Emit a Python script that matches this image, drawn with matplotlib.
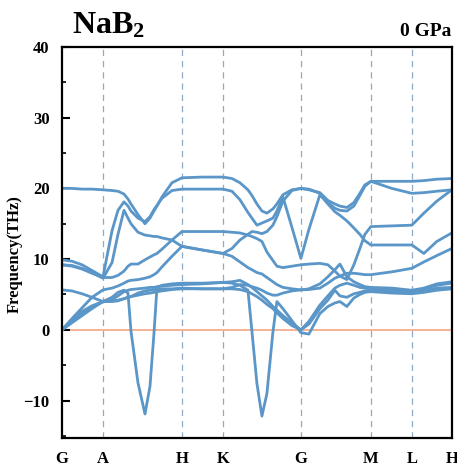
import matplotlib
matplotlib.use("Agg")
import matplotlib.pyplot as plt
from matplotlib.ticker import MultipleLocator

plt.rcParams['font.family'] = 'Liberation Serif'
plt.rcParams['font.weight'] = 'bold'
plt.rcParams['mathtext.fontset'] = 'custom'
plt.rcParams['mathtext.rm'] = 'Liberation Serif'
plt.rcParams['mathtext.bf'] = 'Liberation Serif:bold'

# positions along the k-path (path units) and high-symmetry points
k_path = [0, 10, 20, 30, 41, 50, 56, 62, 66, 69, 76, 83, 88, 92, 95, 100, 110, 120,
          140, 161, 170, 178, 186, 190, 195, 200, 205, 211, 215, 221, 230, 239,
          247, 258, 266, 273, 278, 285, 292, 298, 303, 309, 330, 350, 362, 375, 390]
sym_pos = [0, 41, 120, 161, 239, 309, 350, 390]
sym_labels = ['G', 'A', 'H', 'K', 'G', 'M', 'L', 'H']

# frequencies (THz), one list per branch
band1 = [0, 1.2, 2.3, 3.2, 4.0,
         4.6, 5.3, 5.6, 5.2, -0.2, -7.5, -11.9, -8.0, -0.5, 6.0, 6.3, 6.5, 6.6,
         6.6, 6.7,
         6.6, 6.3, 5.6, -0.2, -7.6, -12.2, -9.0, -0.3, 4.0, 3.0, 1.3, -0.4,
         -0.6, 2.3, 3.3, 3.8, 4.0, 3.3, 4.5, 5.0, 5.3, 5.4,
         5.2, 5.1, 5.3, 5.6, 5.8]
band2 = [0, 1.0, 2.0, 3.0, 4.0,
         4.1, 4.2, 4.4, 4.6, 4.7, 4.9, 5.1, 5.2, 5.3, 5.4, 5.5, 5.7, 5.8,
         5.8, 5.8,
         5.8, 5.7, 5.4, 5.1, 4.7, 4.2, 3.6, 3.0, 2.4, 1.6, 0.6, 0.0,
         0.8, 3.0, 4.2, 5.6, 4.8, 4.6, 5.1, 5.3, 5.5, 5.6,
         5.4, 5.3, 5.6, 5.9, 6.0]
band3 = [0, 1.4, 2.6, 3.4, 4.0,
         4.3, 4.8, 5.4, 5.6, 5.7, 5.8, 5.9, 6.0, 6.0, 6.1, 6.2, 6.3, 6.4,
         6.5, 6.7,
         6.8, 7.0, 6.4, 6.0, 5.4, 4.8, 4.2, 3.3, 2.8, 2.0, 1.0, 0.0,
         1.2, 3.5, 4.8, 5.9, 6.3, 6.6, 6.3, 6.0, 5.9, 5.8,
         5.7, 5.5, 5.8, 6.3, 6.6]
band4 = [5.65, 5.5, 5.1, 4.6, 4.0,
         4.0, 4.1, 4.4, 4.6, 4.7, 5.2, 5.5, 5.6, 5.7, 5.7, 5.8, 5.8, 5.9,
         5.8, 5.8,
         6.0, 6.4, 6.3, 6.1, 5.9, 5.6, 5.2, 4.9, 4.9, 5.2, 5.5, 5.65,
         5.8, 6.5, 7.5, 8.5, 9.3, 7.5, 6.8, 6.4, 6.1, 6.0,
         5.9, 5.6, 5.9, 6.5, 6.8]
band5 = [0, 1.6, 3.1, 4.6, 5.65,
         5.9, 6.2, 6.6, 6.9, 7.0, 7.1, 7.3, 7.5, 7.8, 8.1, 8.9, 10.4, 11.8,
         11.3, 10.8,
         10.4, 9.6, 8.8, 8.5, 8.1, 7.9, 7.4, 6.8, 6.4, 6.0, 5.8, 5.65,
         5.7, 5.9, 6.6, 7.3, 7.6, 8.0, 8.0, 7.9, 7.8, 7.8,
         8.2, 8.7, 9.6, 10.5, 11.5]
band6 = [9.2, 9.0, 8.6, 8.0, 7.4,
         7.4, 7.7, 8.3, 9.0, 9.3, 9.3, 9.9, 10.3, 10.6, 10.8, 11.4, 12.7, 13.9,
         13.9, 13.9,
         13.8, 13.7, 13.4, 13.2, 12.9, 12.5, 11.0, 9.8, 9.0, 8.8, 9.0, 9.2,
         9.3, 9.4, 9.2, 8.3, 7.6, 7.1, 9.2, 11.5, 13.5, 14.6,
         14.7, 14.8, 16.5, 18.2, 19.8]
band7 = [9.2, 9.1, 8.7, 8.1, 7.3,
         9.5, 13.5, 16.9, 15.8, 15.0, 13.8, 13.4, 13.3, 13.2, 13.2, 13.0, 12.7, 11.8,
         11.3, 10.8,
         11.5, 12.7, 13.5, 13.9, 13.8, 13.6, 13.9, 14.8, 16.0, 18.2, 19.7, 20.0,
         19.9, 19.3, 18.0, 17.2, 16.9, 16.8, 17.5, 19.0, 20.3, 21.0,
         20.0, 19.3, 19.4, 19.6, 19.8]
band8 = [9.9, 9.7, 9.2, 8.4, 7.5,
         14.0, 16.9, 18.1, 17.5, 16.8, 15.8, 15.3, 16.0, 17.0, 17.6, 18.6, 19.7, 19.9,
         19.9, 19.9,
         19.6, 18.4, 16.6, 15.8, 14.8, 15.1, 15.4, 15.8, 16.8, 18.8, 14.5, 10.1,
         14.2, 19.1, 17.8, 16.7, 16.2, 15.4, 14.4, 13.5, 12.6, 12.0,
         12.0, 12.0, 10.8, 12.5, 13.7]
band9 = [20.0, 20.0, 19.9, 19.9, 19.8,
         19.7, 19.6, 19.2, 18.5, 17.8, 16.3, 15.0, 15.8, 16.8, 17.5, 18.8, 20.8, 21.5,
         21.6, 21.6,
         21.4, 20.8, 19.8, 19.0, 17.8, 16.8, 16.5, 17.1, 17.8, 19.1, 19.8, 20.0,
         19.8, 19.4, 18.3, 17.8, 17.5, 17.3, 18.0, 19.3, 20.5, 21.0,
         21.0, 21.0, 21.1, 21.3, 21.4]
bands = [band1, band2, band3, band4, band5, band6, band7, band8, band9]

fig = plt.figure(figsize=(4.57, 4.65), dpi=100)
ax = fig.add_axes([0.1357, 0.058, 0.853, 0.841])

for x in sym_pos[1:-1]:
    ax.axvline(x, color='#8FAAC6', lw=0.9, ls=(0, (5, 4)), zorder=0)
ax.axhline(0, color='#F4A582', lw=1.2, zorder=1)
for b in bands:
    ax.plot(k_path, b, color='#5B96C8', lw=2.0, solid_joinstyle='round', zorder=2)

ax.set_xlim(0, 390)
ax.set_ylim(-15.3, 40)
ax.set_xticks(sym_pos)
ax.set_xticklabels(sym_labels, fontsize=12, fontweight='bold')
ax.yaxis.set_major_locator(MultipleLocator(10))
ax.yaxis.set_minor_locator(MultipleLocator(5))
ax.tick_params(axis='y', which='major', direction='in', length=6, width=1.5,
               labelsize=12, pad=9)
ax.tick_params(axis='y', which='minor', direction='in', length=3, width=1.2)
ax.tick_params(axis='x', length=0, pad=9)
for lab in ax.get_yticklabels():
    lab.set_fontweight('bold')
for sp in ax.spines.values():
    sp.set_linewidth(1.6)

ax.set_ylabel('Frequency(THz)', fontsize=12, fontweight='bold')
ax.yaxis.set_label_coords(-0.10, 0.47)

fig.text(0.157, 0.929, r'$\mathbf{NaB_2}$', fontsize=23, ha='left', va='baseline')
fig.text(0.987, 0.923, '0 GPa', fontsize=14, fontweight='bold', ha='right', va='baseline')

fig.savefig('out.png', dpi=100)
